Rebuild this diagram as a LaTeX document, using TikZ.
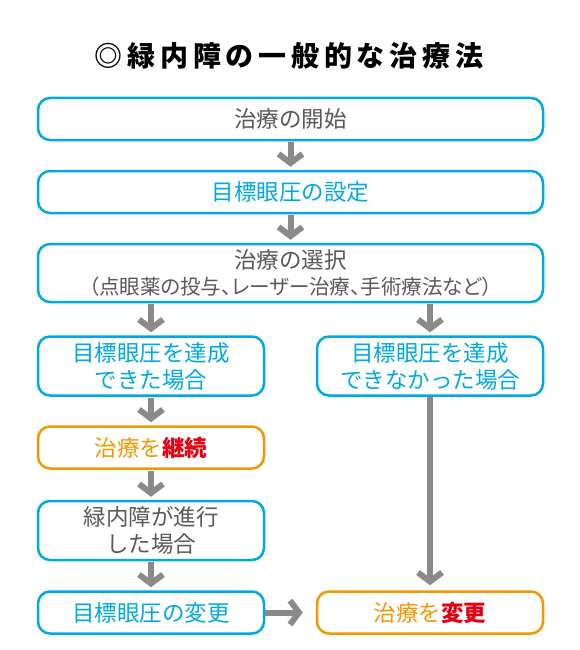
\documentclass[tikz,border=0pt]{standalone}
\usepackage{fontspec}
\setmainfont{Noto Sans CJK JP}
\usetikzlibrary{arrows.meta}
\definecolor{boxblue}{HTML}{00A9E6}
\definecolor{boxorange}{HTML}{F39800}
\definecolor{textgray}{HTML}{595959}
\definecolor{arrowgray}{HTML}{8A8A8A}
\definecolor{alertred}{HTML}{E60012}
\tikzset{
  box/.style={draw=boxblue, line width=2.5pt, rounded corners=12pt, fill=white,
    align=center, inner sep=0pt, text=textgray,
    font=\fontsize{22.5}{27}\selectfont},
  widebox/.style={box, minimum width=505pt, minimum height=42pt},
  halfbox/.style={box, minimum width=226pt, minimum height=42pt},
  tallbox/.style={halfbox, minimum height=59pt},
  orangebox/.style={halfbox, draw=boxorange, text=boxorange},
  flow/.style={draw=arrowgray, line width=6pt,
    -{Straight Barb[length=9pt,width=24pt]}}
}
\newcommand{\hilite}[1]{\textcolor{alertred}{\bfseries #1}}

\begin{document}
\begin{tikzpicture}[x=1pt,y=-1pt]
  \useasboundingbox (0,0) rectangle (580,650);
  \node (title) at (289,56) {\fontsize{28}{32}\selectfont\bfseries\addfontfeature{LetterSpace=17}◎緑内障の一般的な治療法};

  \node[widebox] (start) at (290.5,119) {治療の開始};
  \node[widebox, text=boxblue] (target) at (290.5,192) {目標眼圧の設定};
  \node[widebox, minimum height=58pt] (choice) at (290.5,273)
    {\fontsize{22.5}{26}\selectfont 治療の選択\\[-1pt]
     \fontsize{20.5}{22}\selectfont\addfontfeature{RawFeature=+palt}（点眼薬の投与、レーザー治療、手術療法など）};

  \node[tallbox, text=boxblue] (reached) at (151,366) {目標眼圧を達成\\できた場合};
  \node[tallbox, text=boxblue] (missed) at (430,366) {目標眼圧を達成\\できなかった場合};
  \node[orangebox] (keep) at (151,447.5) {治療を\hilite{継続}};
  \node[tallbox] (worse) at (151,530.5) {緑内障が進行\\した場合};
  \node[halfbox, text=boxblue] (retarget) at (151,612.5) {目標眼圧の変更};
  \node[orangebox] (switch) at (430,612.5) {治療を\hilite{変更}};

  \draw[flow, shorten <=1pt, shorten >=3pt] (start) -- (target);
  \draw[flow, shorten <=1pt, shorten >=3pt] (target) -- (choice);
  \draw[flow, shorten <=1pt, shorten >=3pt] (reached |- choice.south) -- (reached.north);
  \draw[flow, shorten <=1pt, shorten >=3pt] (missed |- choice.south) -- (missed.north);
  \draw[flow, shorten <=1pt, shorten >=3pt] (reached) -- (keep);
  \draw[flow, shorten <=1pt, shorten >=3pt] (keep) -- (worse);
  \draw[flow, shorten <=1pt, shorten >=3pt] (worse) -- (retarget);
  \draw[flow, shorten >=5pt] (missed) -- (switch);
  \draw[flow, shorten >=13pt] (retarget) -- (switch);
\end{tikzpicture}
\end{document}
